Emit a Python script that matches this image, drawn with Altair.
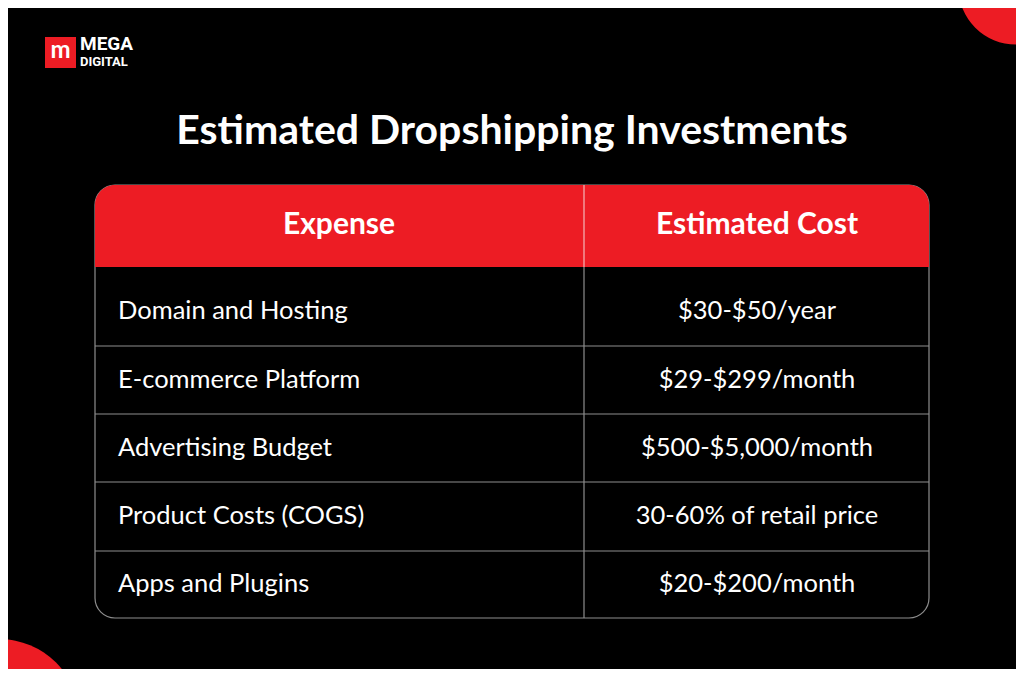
import altair as alt
import pandas as pd

# ---- content ----
title_text = ["Estimated Dropshipping Investments"]
header_labels = ["Expense", "Estimated Cost"]
expenses = ["Domain and Hosting", "E-commerce Platform", "Advertising Budget",
            "Product Costs (COGS)", "Apps and Plugins"]
costs = ["$30-$50/year", "$29-$299/month", "$500-$5,000/month",
         "30-60% of retail price", "$20-$200/month"]
brand = ["MEGA", "DIGITAL"]

# ---- layout (page pixel coordinates) ----
W, H = 1008, 661
xs = alt.Scale(domain=[8, 1016], range=[0, W], nice=False, zero=False)
ys = alt.Scale(domain=[8, 669], range=[0, H], nice=False, zero=False)

RED = "#ED1C24"
GRID = "#8e8e8e"
FONT = "Lato"

tx0, tx1, ty0, ty1 = 95, 929, 185, 618
head_bottom = 267
col_split = 584
row_lines = [346, 414, 482, 551]
row_centers = [311, 380, 448, 516, 584]
left_x = 118
right_cx = 757
left_cx = 339


def X(f="x"):
    return alt.X(f + ":Q", scale=xs, axis=None)


def Y(f="y"):
    return alt.Y(f + ":Q", scale=ys, axis=None)


# corner decorations
corners = alt.Chart(pd.DataFrame({"x": [1016, 0], "y": [-13, 718], "s": [13273, 24885]})).mark_circle(
    color=RED, opacity=1, clip=True
).encode(x=X(), y=Y(), size=alt.Size("s:Q", scale=None, legend=None))

# table outline
outline = alt.Chart(pd.DataFrame({"x": [tx0], "x2": [tx1], "y": [ty0], "y2": [ty1]})).mark_rect(
    fillOpacity=0, stroke=GRID, strokeWidth=1.2, cornerRadius=20
).encode(x=X(), x2="x2:Q", y=Y(), y2="y2:Q")

# header band
header = alt.Chart(pd.DataFrame({"x": [tx0], "x2": [tx1], "y": [ty0], "y2": [head_bottom]})).mark_rect(
    color=RED, cornerRadiusTopLeft=20, cornerRadiusTopRight=20
).encode(x=X(), x2="x2:Q", y=Y(), y2="y2:Q")

# horizontal row separators
hlines = alt.Chart(pd.DataFrame({"y": row_lines, "x": [tx0] * 4, "x2": [tx1] * 4})).mark_rule(
    color=GRID, strokeWidth=1.2
).encode(x=X(), x2="x2:Q", y=Y())

# vertical column separator
vline_body = alt.Chart(pd.DataFrame({"x": [col_split], "y": [head_bottom], "y2": [ty1]})).mark_rule(
    color=GRID, strokeWidth=1.2
).encode(x=X(), y=Y(), y2="y2:Q")
vline_head = alt.Chart(pd.DataFrame({"x": [col_split], "y": [ty0], "y2": [head_bottom]})).mark_rule(
    color="#f3b7b9", strokeWidth=1.2
).encode(x=X(), y=Y(), y2="y2:Q")

# title
title = alt.Chart(pd.DataFrame({"t": title_text, "x": [512], "y": [132]})).mark_text(
    color="white", font=FONT, fontSize=41, fontWeight="bold", align="center", baseline="middle"
).encode(x=X(), y=Y(), text="t:N")

# header labels
head_txt = alt.Chart(pd.DataFrame({"t": header_labels, "x": [left_cx, right_cx], "y": [225, 225]})).mark_text(
    color="white", font=FONT, fontSize=30, fontWeight="bold", align="center", baseline="middle"
).encode(x=X(), y=Y(), text="t:N")

# body cells
left_txt = alt.Chart(pd.DataFrame({"t": expenses, "x": [left_x] * 5, "y": row_centers})).mark_text(
    color="white", font=FONT, fontSize=25.5, align="left", baseline="middle"
).encode(x=X(), y=Y(), text="t:N")
right_txt = alt.Chart(pd.DataFrame({"t": costs, "x": [right_cx] * 5, "y": row_centers})).mark_text(
    color="white", font=FONT, fontSize=25.5, align="center", baseline="middle"
).encode(x=X(), y=Y(), text="t:N")

# logo
logo_box = alt.Chart(pd.DataFrame({"x": [45], "x2": [76], "y": [37], "y2": [68]})).mark_rect(
    color=RED
).encode(x=X(), x2="x2:Q", y=Y(), y2="y2:Q")
logo_m = alt.Chart(pd.DataFrame({"t": ["m"], "x": [60.5], "y": [51]})).mark_text(
    color="white", font=FONT, fontSize=24, fontWeight="bold", align="center", baseline="middle"
).encode(x=X(), y=Y(), text="t:N")
logo_txt = alt.Chart(pd.DataFrame({"t": brand, "x": [80, 80], "y": [44, 61.5], "fs": [19, 13]})).mark_text(
    color="white", font="Roboto", fontWeight="bold", align="left", baseline="middle"
).encode(x=X(), y=Y(), text="t:N", size=alt.Size("fs:Q", scale=None, legend=None))

chart = alt.layer(
    corners, outline, header, hlines, vline_body, vline_head,
    title, head_txt, left_txt, right_txt, logo_box, logo_m, logo_txt
).properties(
    width=W, height=H, background="#000000", padding=0,
    autosize=alt.AutoSizeParams(type="none")
).configure_view(stroke=None, fill="#000000")

chart.save("out.html", embed_options={"renderer": "svg", "actions": False})
